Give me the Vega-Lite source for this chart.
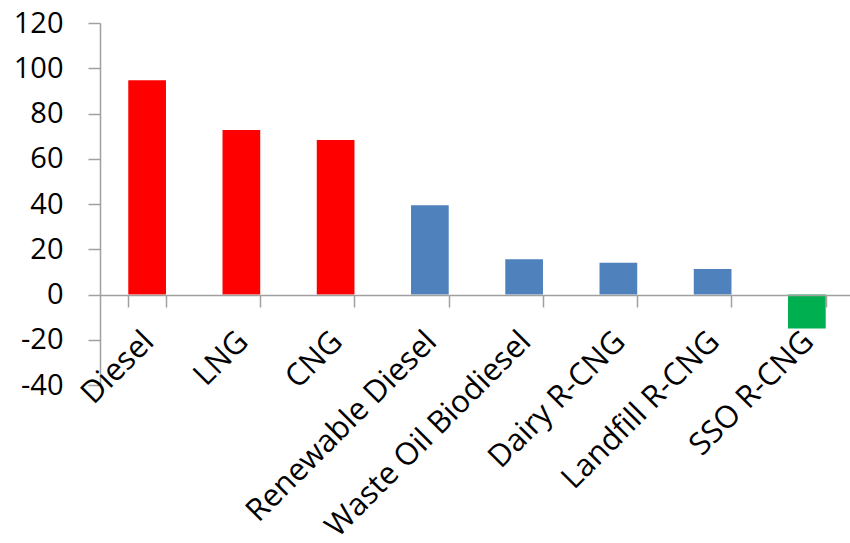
{
  "$schema": "https://vega.github.io/schema/vega-lite/v6.json",
  "width": 754,
  "height": 362,
  "autosize": {"type": "none"},
  "padding": {"left": 100, "top": 23, "right": 0, "bottom": 158},
  "background": "white",
  "config": {"view": {"stroke": null}, "font": "Open Sans"},
  "data": {
    "values": [
      {"fuel": "Diesel", "value": 94.7, "group": "fossil"},
      {"fuel": "LNG", "value": 72.7, "group": "fossil"},
      {"fuel": "CNG", "value": 68.3, "group": "fossil"},
      {"fuel": "Renewable Diesel", "value": 39.4, "group": "renewable"},
      {"fuel": "Waste Oil Biodiesel", "value": 15.6, "group": "renewable"},
      {"fuel": "Dairy R-CNG", "value": 14.0, "group": "renewable"},
      {"fuel": "Landfill R-CNG", "value": 11.3, "group": "renewable"},
      {"fuel": "SSO R-CNG", "value": -15.0, "group": "sso"}
    ]
  },
  "mark": {"type": "bar"},
  "encoding": {
    "x": {
      "field": "fuel",
      "type": "nominal",
      "sort": null,
      "scale": {"paddingInner": 0.6, "paddingOuter": 0.3},
      "axis": {
        "title": null,
        "offset": -90,
        "zindex": 1,
        "labelAngle": -45,
        "labelAlign": "right",
        "labelBaseline": "top",
        "labelOffset": -9,
        "labelPadding": 19,
        "labelFontSize": 31,
        "labelColor": "black",
        "labelFont": "Open Sans",
        "labelOverlap": false,
        "labelLimit": 0,
        "labelBound": false,
        "domainColor": "#a0a0a0",
        "domainWidth": 1.5,
        "tickColor": "#a0a0a0",
        "tickWidth": 1.5,
        "tickSize": 12,
        "tickBand": "extent"
      }
    },
    "y": {
      "field": "value",
      "type": "quantitative",
      "scale": {"domain": [-40, 120], "nice": false, "zero": false},
      "axis": {
        "title": null,
        "values": [-40, -20, 0, 20, 40, 60, 80, 100, 120],
        "labelExpr": "replace(datum.label, '\u2212', '-')",
        "grid": false,
        "tickSize": 12,
        "labelPadding": 25,
        "labelFontSize": 29,
        "labelColor": "black",
        "labelFont": "Open Sans",
        "domainColor": "#a0a0a0",
        "domainWidth": 1.5,
        "tickColor": "#a0a0a0",
        "tickWidth": 1.5
      }
    },
    "color": {
      "field": "group",
      "type": "nominal",
      "scale": {"domain": ["fossil", "renewable", "sso"], "range": ["#FF0000", "#4F81BD", "#00B050"]},
      "legend": null
    }
  }
}
